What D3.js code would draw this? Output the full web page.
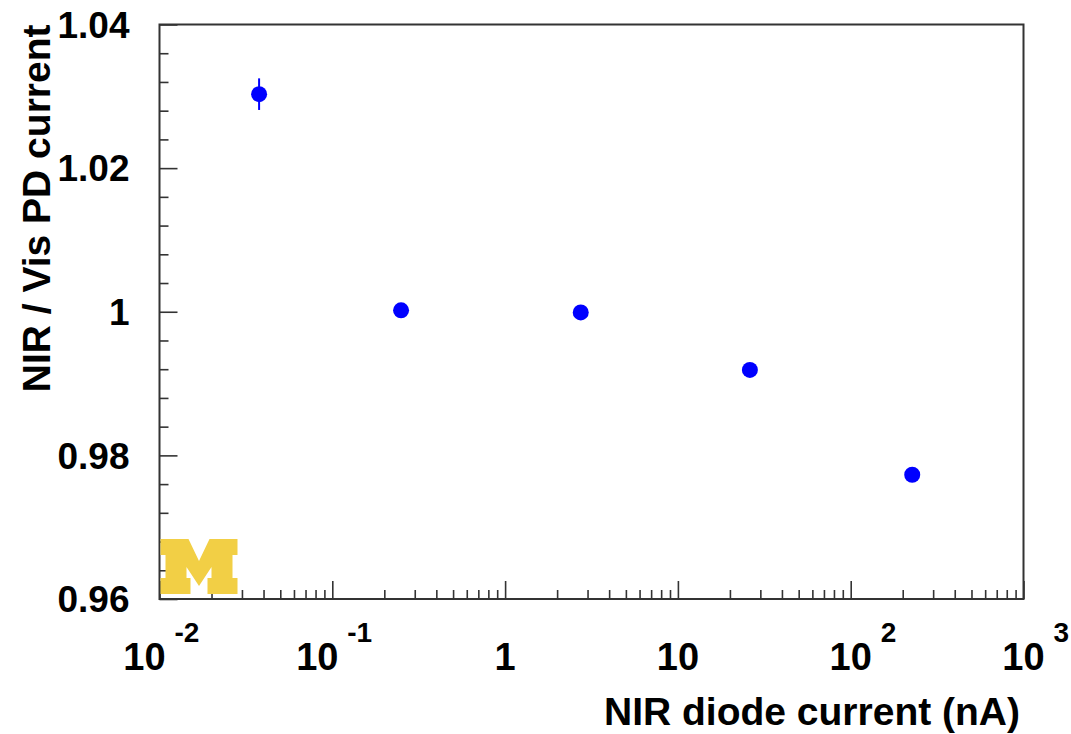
<!DOCTYPE html>
<html>
<head>
<meta charset="utf-8">
<script src="https://cdn.jsdelivr.net/npm/d3@7"></script>
<style>
  body { margin: 0; background: #fff; }
  svg { display: block; }
  text { font-family: "Liberation Sans", Arial, sans-serif; font-weight: bold; fill: #000; }
</style>
</head>
<body>
<svg id="chart" width="1071" height="734"></svg>
<script>
// measured points: NIR diode current (nA) vs NIR / Vis PD current ratio
const current = [0.0377, 0.250, 2.74, 26.1, 227];
const ratio = [1.0303, 1.0002, 0.9999, 0.9919, 0.9773];
const ratioErr = [0.0022, 0.0004, 0.0004, 0.0003, 0.0003];

const xTickValues = [0.01, 0.1, 1, 10, 100, 1000];
const xTickBase = ["10", "10", "1", "10", "10", "10"];
const xTickSup = ["-2", "-1", "", "", "2", "3"];

const yTickValues = [0.96, 0.98, 1, 1.02, 1.04];
const yTickLabels = ["0.96", "0.98", "1", "1.02", "1.04"];

const xTitle = "NIR diode current (nA)";
const yTitle = "NIR / Vis PD current";

const width = 1071, height = 734;
const margin = { top: 24.5, right: 47.5, bottom: 135, left: 159.5 };

const svg = d3.select("#chart");

const x = d3.scaleLog()
  .domain([0.01, 1000])
  .range([margin.left, width - margin.right]);
const y = d3.scaleLinear()
  .domain([0.96, 1.04])
  .range([height - margin.bottom, margin.top]);

// minor ticks: 2..9 in each decade, every 0.004 on y
const xMinor = [];
for (let e = -2; e < 3; e++) {
  for (let k = 2; k <= 9; k++) xMinor.push(k * Math.pow(10, e));
}
const yMinor = d3.range(0, 21).map(i => 0.96 + i * 0.004)
  .filter(v => !yTickValues.some(t => Math.abs(t - v) < 1e-9));

const axisColor = "#333";

function styleAxis(g) {
  g.select(".domain").remove();
  g.selectAll(".tick line").attr("stroke", axisColor).attr("stroke-width", 1.6);
  g.selectAll(".tick text").remove();
}

const yBase = y.range()[0];
svg.append("g")
  .attr("transform", `translate(0,${yBase})`)
  .call(d3.axisBottom(x).tickValues(xMinor).tickSize(-9))
  .call(styleAxis);
svg.append("g")
  .attr("transform", `translate(0,${yBase})`)
  .call(d3.axisBottom(x).tickValues(xTickValues).tickSize(-18))
  .call(styleAxis);

svg.append("g")
  .attr("transform", `translate(${margin.left},0)`)
  .call(d3.axisLeft(y).tickValues(yMinor).tickSize(-9))
  .call(styleAxis);
svg.append("g")
  .attr("transform", `translate(${margin.left},0)`)
  .call(d3.axisLeft(y).tickValues(yTickValues).tickSize(-18))
  .call(styleAxis);

// frame
svg.append("rect")
  .attr("x", x.range()[0])
  .attr("y", y.range()[1])
  .attr("width", x.range()[1] - x.range()[0])
  .attr("height", y.range()[0] - y.range()[1])
  .attr("fill", "none")
  .attr("stroke", axisColor)
  .attr("stroke-width", 2);

// y tick labels
svg.append("g").selectAll("text")
  .data(yTickValues)
  .join("text")
  .attr("x", margin.left - 30)
  .attr("y", d => y(d))
  .attr("dy", "0.36em")
  .attr("text-anchor", "end")
  .style("font-size", "37px")
  .text((d, i) => yTickLabels[i]);

// x tick labels with superscript exponents
const xl = svg.append("g").selectAll("g")
  .data(xTickValues)
  .join("g")
  .attr("transform", (d, i) => {
    const shift = xTickSup[i].startsWith("-") ? -15 : 0;
    return `translate(${x(d) + shift},670)`;
  });
xl.append("text")
  .attr("text-anchor", "middle")
  .style("font-size", "38px")
  .text((d, i) => xTickBase[i]);
xl.append("text")
  .attr("x", 30)
  .attr("y", -28)
  .style("font-size", "28px")
  .text((d, i) => xTickSup[i]);

// axis titles
svg.append("text")
  .attr("x", 1020)
  .attr("y", 725)
  .attr("text-anchor", "end")
  .style("font-size", "39px")
  .text(xTitle);

svg.append("text")
  .attr("transform", `translate(50,${margin.top}) rotate(-90)`)
  .attr("text-anchor", "end")
  .style("font-size", "39px")
  .text(yTitle);

// points with error bars
const pts = svg.append("g");
pts.selectAll("line")
  .data(current)
  .join("line")
  .attr("x1", d => x(d))
  .attr("x2", d => x(d))
  .attr("y1", (d, i) => y(ratio[i] + ratioErr[i]))
  .attr("y2", (d, i) => y(ratio[i] - ratioErr[i]))
  .attr("stroke", "#0000ff")
  .attr("stroke-width", 2);
pts.selectAll("circle")
  .data(current)
  .join("circle")
  .attr("cx", d => x(d))
  .attr("cy", (d, i) => y(ratio[i]))
  .attr("r", 8)
  .attr("fill", "#0000ff");

// block M logo in the lower left corner
const mShape = [[0,0],[28,0],[38.5,22],[49,0],[77,0],[77,16],[72,16],[72,39],[77,39],[77,55],
  [47,55],[47,39],[51,39],[51,28],[38.5,47],[26,28],[26,39],[30,39],[30,55],[0,55],
  [0,39],[5,39],[5,16],[0,16]];
svg.append("path")
  .attr("transform", `translate(${margin.left + 1},539)`)
  .attr("d", d3.line()(mShape) + "Z")
  .attr("fill", "#f2cf45");
</script>
</body>
</html>
